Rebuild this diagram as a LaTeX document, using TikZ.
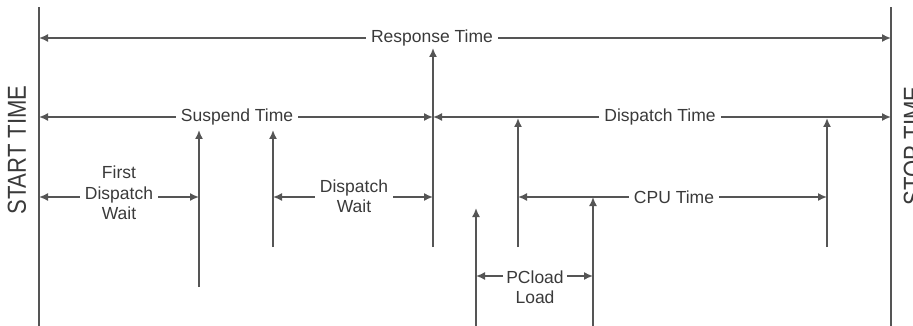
\documentclass[tikz,border=0pt]{standalone}
\usepackage{fontspec}
\setmainfont{Liberation Sans}
\usetikzlibrary{arrows.meta}
\definecolor{linegray}{HTML}{555555}
\definecolor{textgray}{HTML}{3A3A3A}
\begin{document}
\begin{tikzpicture}[x=1pt,y=-1pt,
  conn/.style={draw=linegray,line width=1.6pt,-{Latex[length=9pt,width=8pt]}},
  plain/.style={draw=linegray,line width=1.6pt},
  lbl/.style={text=textgray,font=\fontsize{17.5}{20.5}\selectfont,align=center,inner xsep=5pt,inner ysep=2pt},
  side/.style={text=textgray,font=\fontsize{26}{28}\selectfont,rotate=90,inner sep=0pt}]
\useasboundingbox (0,0) rectangle (913,326);
% start / stop lines
\coordinate (st) at (39,7);   \coordinate (sb) at (39,326);
\coordinate (et) at (891,7);  \coordinate (eb) at (891,326);
\draw[plain] (sb) -- (st);
\draw[plain] (eb) -- (et);
\node[side] (start) at (17,150) {\scalebox{0.85}[1]{START TIME}};
\node[side] (stop) at (913,146) {\scalebox{0.85}[1]{STOP TIME}};
% edge points on start/stop lines
\coordinate (sR) at (39,38);  \coordinate (eR) at (891,38);
\coordinate (sS) at (39,117); \coordinate (eS) at (891,117);
\coordinate (sF) at (39,197);
% vertical event arrows
\coordinate (v1b) at (199,287); \coordinate (v1t) at (199,130);
\coordinate (v2b) at (273,247); \coordinate (v2t) at (273,130);
\coordinate (v3b) at (433,247); \coordinate (v3t) at (433,48);
\coordinate (v4b) at (476,326); \coordinate (v4t) at (476,208);
\coordinate (v5b) at (518,247); \coordinate (v5t) at (518,118);
\coordinate (v6b) at (593,326); \coordinate (v6t) at (593,197);
\coordinate (v7b) at (827,247); \coordinate (v7t) at (827,118);
\foreach \i in {1,...,7} \draw[conn] (v\i b) -- (v\i t);
% crossing points
\coordinate (v1m) at (199,197);
\coordinate (v2m) at (273,197);
\coordinate (v3m) at (433,197);
\coordinate (v3s) at (433,117);
\coordinate (v4m) at (476,276);
\coordinate (v5m) at (518,197);
\coordinate (v6m) at (593,276);
\coordinate (v7m) at (827,197);
% Response Time
\node[lbl] (rt) at (432,38) {Response Time};
\draw[conn] (rt) -- (sR);
\draw[conn] (rt) -- (eR);
% Suspend Time
\node[lbl] (su) at (237,117) {Suspend Time};
\draw[conn] (su) -- (sS);
\draw[conn] (su) -- (v3s);
% Dispatch Time
\node[lbl] (dt) at (660,117) {Dispatch Time};
\draw[conn] (dt) -- (v3s);
\draw[conn] (dt) -- (eS);
% First Dispatch Wait
\node[lbl] (fw) at (119,193) {First\\Dispatch\\Wait};
\draw[conn] (fw.west |- sF) -- (sF);
\draw[conn] (fw.east |- sF) -- (v1m);
% Dispatch Wait
\node[lbl] (dw) at (354,196) {Dispatch\\Wait};
\draw[conn] (dw.west |- v2m) -- (v2m);
\draw[conn] (dw.east |- v2m) -- (v3m);
% CPU Time
\node[lbl] (cpu) at (674,197) {CPU Time};
\draw[conn] (cpu) -- (v5m);
\draw[conn] (cpu) -- (v7m);
% PCload Load
\node[lbl,inner xsep=3pt] (pc) at (535,287) {PCload\\Load};
\draw[conn] (pc.west |- v4m) -- (v4m);
\draw[conn] (pc.east |- v4m) -- (v6m);
\end{tikzpicture}
\end{document}
